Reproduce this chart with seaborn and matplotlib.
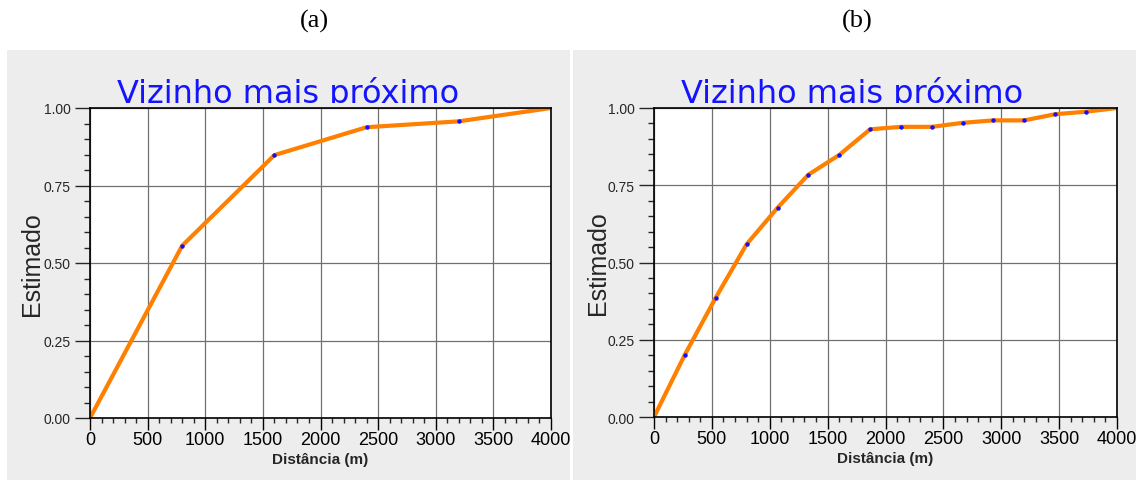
import matplotlib
matplotlib.use("Agg")
import matplotlib.pyplot as plt
import seaborn as sns
import pandas as pd
from matplotlib.patches import Rectangle
from matplotlib.ticker import MultipleLocator, FormatStrFormatter
from matplotlib.transforms import Bbox, TransformedBbox

# data
dist_a = [0, 800, 1600, 2400, 3200, 4000]
est_a = [0.0, 0.556, 0.848, 0.938, 0.957, 1.0]

dist_b = [0, 267, 533, 800, 1067, 1333, 1600, 1867, 2133, 2400, 2667, 2933, 3200, 3467, 3733, 4000]
est_b = [0.0, 0.202, 0.386, 0.559, 0.677, 0.784, 0.848, 0.931, 0.939, 0.939, 0.952, 0.960, 0.960, 0.980, 0.988, 1.0]

panel_tags = ["(a)", "(b)"]
chart_title = "Vizinho mais próximo"
x_label = "Distância (m)"
y_label = "Estimado"

sns.set_style("white")
plt.rcParams["font.family"] = ["DejaVu Sans"]

W, H = 1136, 481
fig = plt.figure(figsize=(W / 100, H / 100), dpi=100)
fig.patch.set_facecolor("white")


def px_rect(x0, y0, x1, y1):
    # pixel box (top-down) -> figure fraction [left, bottom, width, height]
    return [x0 / W, 1 - y1 / H, (x1 - x0) / W, (y1 - y0) / H]


# gray panel backgrounds
for (x0, x1), z in [((7, 570), -2), ((573, 1136), 0.5)]:
    l, b, w, h = px_rect(x0, 51, x1, 481)
    fig.patches.append(Rectangle((l, b), w, h, transform=fig.transFigure,
                                 facecolor="#ededed", edgecolor="none", zorder=z))
l, b, w, h = px_rect(570, 51, 573, 481)
fig.patches.append(Rectangle((l, b), w, h, transform=fig.transFigure,
                             facecolor="white", edgecolor="none", zorder=0.5))

# data, axes box, title centre, tag centre, y-label centre, zorder
panels = [
    (dist_a, est_a, px_rect(90, 109, 551, 419), 288, 314, 32, 0),
    (dist_b, est_b, px_rect(654, 109, 1117, 418), 852, 857, 598, 1),
]

for i, (xs, ys, rect, title_x, tag_x, ylab_x, z) in enumerate(panels):
    ax = fig.add_axes(rect, zorder=z)
    ax.set_facecolor("white")
    df = pd.DataFrame({"dist": xs, "est": ys})
    sns.lineplot(data=df, x="dist", y="est", ax=ax, color="#ff8000", lw=3,
                 marker="o", markersize=3.2, markerfacecolor="#1010ff",
                 markeredgewidth=0, markevery=slice(1, -1))
    ax.set_xlim(0, 4000)
    ax.set_ylim(0, 1)
    ax.xaxis.set_major_locator(MultipleLocator(500))
    ax.xaxis.set_minor_locator(MultipleLocator(100))
    ax.yaxis.set_major_locator(MultipleLocator(0.25))
    ax.yaxis.set_minor_locator(MultipleLocator(0.05))
    ax.yaxis.set_major_formatter(FormatStrFormatter("%.2f"))
    ax.set_axisbelow(True)
    ax.grid(True, which="major", color="#707070", lw=0.9)
    for sp in ax.spines.values():
        sp.set_color("black")
        sp.set_linewidth(1.2)

    ax.tick_params(axis="x", which="major", length=8.6, width=1, pad=1,
                   labelsize=13, colors="black")
    ax.tick_params(axis="x", which="minor", length=3.6, width=1)
    ax.tick_params(axis="y", which="major", length=10.8, width=1, pad=3,
                   labelsize=10)
    ax.tick_params(axis="y", which="minor", length=4.3, width=1)
    ax.tick_params(which="both", direction="out", bottom=True, left=True)
    for t in ax.get_xticklabels() + ax.get_yticklabels():
        t.set_family("Liberation Sans")

    ax.set_xlabel(x_label, fontsize=11, fontweight="bold",
                  family="Liberation Sans", labelpad=3)
    ax.set_ylabel(y_label, fontsize=18, family="Liberation Sans", va="center")
    ax.yaxis.set_label_coords((ylab_x - rect[0] * W) / (rect[2] * W), 0.5)

    # blue title, bottom clipped by the plot frame
    t = fig.text(title_x / W, 1 - 103 / H, chart_title, ha="center", va="baseline",
                 fontsize=23, color="#1414ff", family="DejaVu Sans")
    t.set_clip_box(TransformedBbox(Bbox([[0, 1 - 104 / H], [1, 1]]), fig.transFigure))

    fig.text(tag_x / W, 1 - 21 / H, panel_tags[i], ha="center", va="center",
             fontsize=19, family="Liberation Serif", color="black")

fig.savefig("out.png", dpi=100, facecolor="white")
